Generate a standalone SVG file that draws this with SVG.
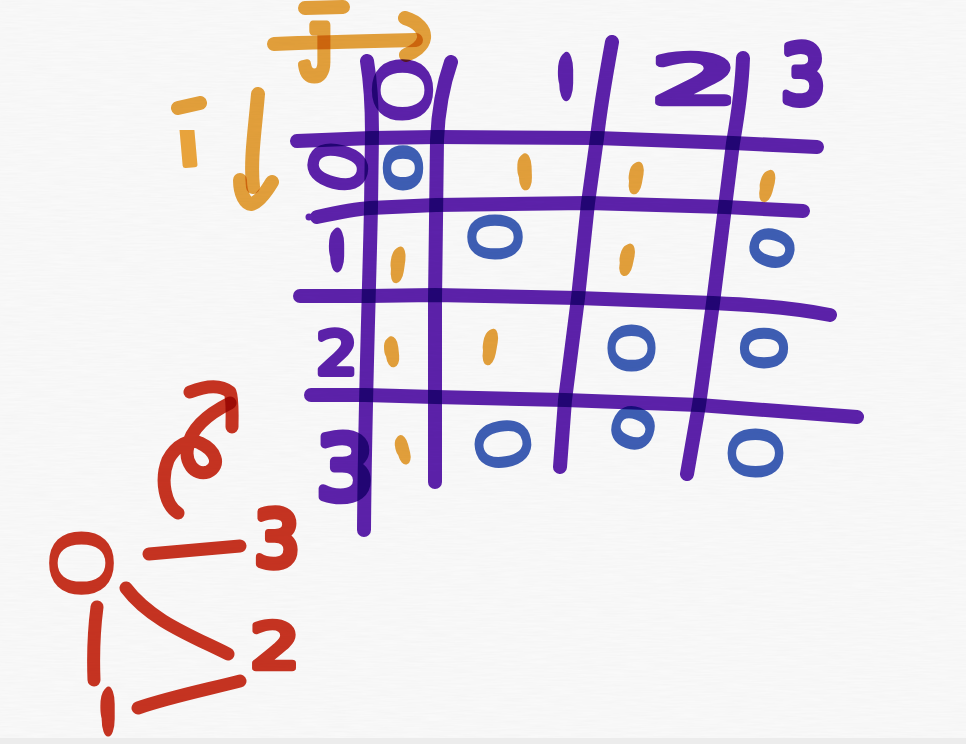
<svg xmlns="http://www.w3.org/2000/svg" width="966" height="744" viewBox="0 0 966 744">
<style>
.s{fill:none;stroke-linecap:round;stroke-linejoin:round;mix-blend-mode:multiply}
.pl{stroke:#5e22ae;stroke-width:14}
.ol{stroke:#e8a33c;stroke-width:14}
.rl{stroke:#cb3422;stroke-width:13}
text{font-family:"DejaVu Sans",sans-serif;font-size:100px;text-anchor:middle;stroke-linejoin:round;stroke-linecap:round;mix-blend-mode:multiply}
text.n{font-family:Roboto,sans-serif}
text.l{font-family:"Liberation Sans",sans-serif}
text.z{font-family:Inter,sans-serif}
.d{stroke-width:10}
.o1{stroke-width:177}
.p1{stroke-width:191}
.r1{stroke-width:177}
.p{fill:#5e22ae;stroke:#5e22ae}
.o{fill:#e8a33c;stroke:#e8a33c}
.b{fill:#3f60b8;stroke:#3f60b8}
.r{fill:#cb3422;stroke:#cb3422}
</style>
<defs>
<filter id="paper" x="0" y="0" width="100%" height="100%"><feTurbulence type="fractalNoise" baseFrequency=".04 .6" numOctaves="2" seed="3"/><feColorMatrix values="0 0 0 0 .6 0 0 0 0 .6 0 0 0 0 .6 0 0 0 .14 -.03"/></filter>
<clipPath id="stem"><rect x="170" y="130" width="40" height="45"/></clipPath>
</defs>
<rect width="966" height="744" fill="#f9f9f9"/>
<rect width="966" height="744" filter="url(#paper)"/>
<rect y="738" width="966" height="6" fill="#ececec"/>
<g id="grid">
<path class="s pl" d="M367 61C371 85 372 110 372 133L371 207C369 300 365 400 364 530"/>
<path class="s pl" d="M451 62C443 85 438 115 437 140L435 300L435 482"/>
<path class="s pl" d="M612 42C606 75 600 110 597 138L588 203L578 298L565 400L560 467"/>
<path class="s pl" d="M743 58C742 90 737 120 733 143L725 207L713 303L699 405L687 474"/>
<path class="s pl" d="M297 141L372 138L437 137L597 138L733 143L817 147"/>
<path class="s pl" d="M317 217C340 212 355 209 370 208L436 205L588 203L725 207L803 211"/>
<path class="s pl" d="M300 296L367 296L435 295L578 298L713 303C760 305 800 309 830 315"/>
<path class="s pl" d="M311 395L365 395L435 397L565 400L699 405L857 417"/>
<circle cx="309" cy="217" r="3.5" fill="#5e22ae"/>
</g>
<g id="column-labels">
<text class="p z" transform="translate(403 90) scale(.79 1.13) rotate(90)" y="36.5" stroke-width="3">0</text>
<text class="p n p1" transform="translate(566 76) scale(.07 .19)" y="34.5">1</text>
<text class="p d" transform="translate(695 80) scale(1.35 .66)" y="35.5">2</text>
<text class="p d" transform="translate(803 75) scale(.7 .8)" y="35.5">3</text>
</g>
<g id="row-labels">
<text class="p z" transform="translate(338 167) rotate(14) scale(.75 .77) rotate(90)" y="36.5" stroke-width="7">0</text>
<text class="p n p1" transform="translate(337 250) scale(.07 .172)" y="34.5">1</text>
<text class="p d" transform="translate(337 353) scale(.65 .59)" y="35.5">2</text>
<text class="p d" transform="translate(345 468) scale(.9 .87)" y="35.5">3</text>
</g>
<g id="values">
<text class="b z" transform="translate(403 168) scale(.49 .75) rotate(90)" y="36.5" stroke-width="9">0</text>
<text class="o n o1" transform="translate(525 172) rotate(-2) scale(.07 .149)" y="34.5">1</text>
<text class="o n o1" transform="translate(636 178) rotate(10) scale(.07 .133)" y="34.5">1</text>
<text class="o n o1" transform="translate(767 186) rotate(14) scale(.07 .133)" y="34.5">1</text>
<text class="o n o1" transform="translate(398 265) rotate(8) scale(.07 .149)" y="34.5">1</text>
<text class="b z" transform="translate(495 237) scale(.69 .8) rotate(90)" y="36.5" stroke-width="5">0</text>
<text class="o n o1" transform="translate(627 260) rotate(12) scale(.07 .133)" y="34.5">1</text>
<text class="b z" transform="translate(772 248) rotate(15) scale(.54 .64) rotate(90)" y="36.5" stroke-width="9">0</text>
<text class="o n o1" transform="translate(392 352) rotate(-6) scale(.07 .125)" y="34.5">1</text>
<text class="o n o1" transform="translate(490 347) rotate(10) scale(.07 .149)" y="34.5">1</text>
<text class="b z" transform="translate(631 348) scale(.615 .84) rotate(90)" y="36.5" stroke-width="5">0</text>
<text class="b z" transform="translate(764 348) scale(.6 .7) rotate(90)" y="36.5" stroke-width="7">0</text>
<text class="o n o1" transform="translate(403 450) rotate(-14) scale(.065 .121)" y="34.5">1</text>
<text class="b z" transform="translate(503 444) rotate(-10) scale(.72 .85) rotate(90)" y="36.5" stroke-width="4">0</text>
<text class="b z" transform="translate(633 428) rotate(20) scale(.51 .71) rotate(90)" y="36.5" stroke-width="9">0</text>
<text class="b z" transform="translate(756 453) scale(.7 .89) rotate(90)" y="36.5" stroke-width="4">0</text>
</g>
<g id="axis-labels">
<path class="s ol" d="M274 44C320 42 370 41 416 40"/>
<path class="s ol" d="M405 18C418 22 425 30 424 38C423 46 414 52 406 55"/>
<path class="s ol" d="M305 8L343 7"/>
<text class="o l" transform="translate(316 50) scale(.61 .77)" y="36" stroke-width="12">J</text>
<path class="s ol" d="M258 94C255 130 250 160 253 187"/>
<path class="s ol" d="M240 180C240 195 246 204 251 204C258 203 266 192 272 182"/>
<path class="s ol" d="M178 108L200 103"/>
<g clip-path="url(#stem)"><text class="o l" transform="translate(190 165) rotate(-5) scale(1 .85)" stroke-width="6">i</text></g>
</g>
<g id="connectors">
<path class="s rl" d="M178 513C165 505 160 480 168 460C176 445 190 438 200 443C215 450 222 465 208 472C194 476 184 462 188 446C192 425 212 412 230 403"/>
<path class="s rl" d="M190 392C205 386 220 384 230 392C233 400 232 415 232 427"/>
<path class="s rl" d="M149 554L240 546"/>
<path class="s rl" d="M126 588C150 620 190 635 228 654"/>
<path class="s rl" d="M97 607C94 630 93 655 94 680"/>
<path class="s rl" d="M138 708C170 697 205 690 240 681"/>
</g>
<g id="node-0"><text class="r z" transform="translate(82 563) scale(.84 1.19) rotate(90)" y="36.5" stroke-width="2">0</text></g>
<g id="node-1"><text class="r n r1" transform="translate(108 712) scale(.07 .198)" y="34.5">1</text></g>
<g id="node-2"><text class="r d" transform="translate(275 646) scale(.78 .63)" y="35.5">2</text></g>
<g id="node-3"><text class="r d" transform="translate(277 539) scale(.72 .76)" y="35.5">3</text></g>
</svg>
